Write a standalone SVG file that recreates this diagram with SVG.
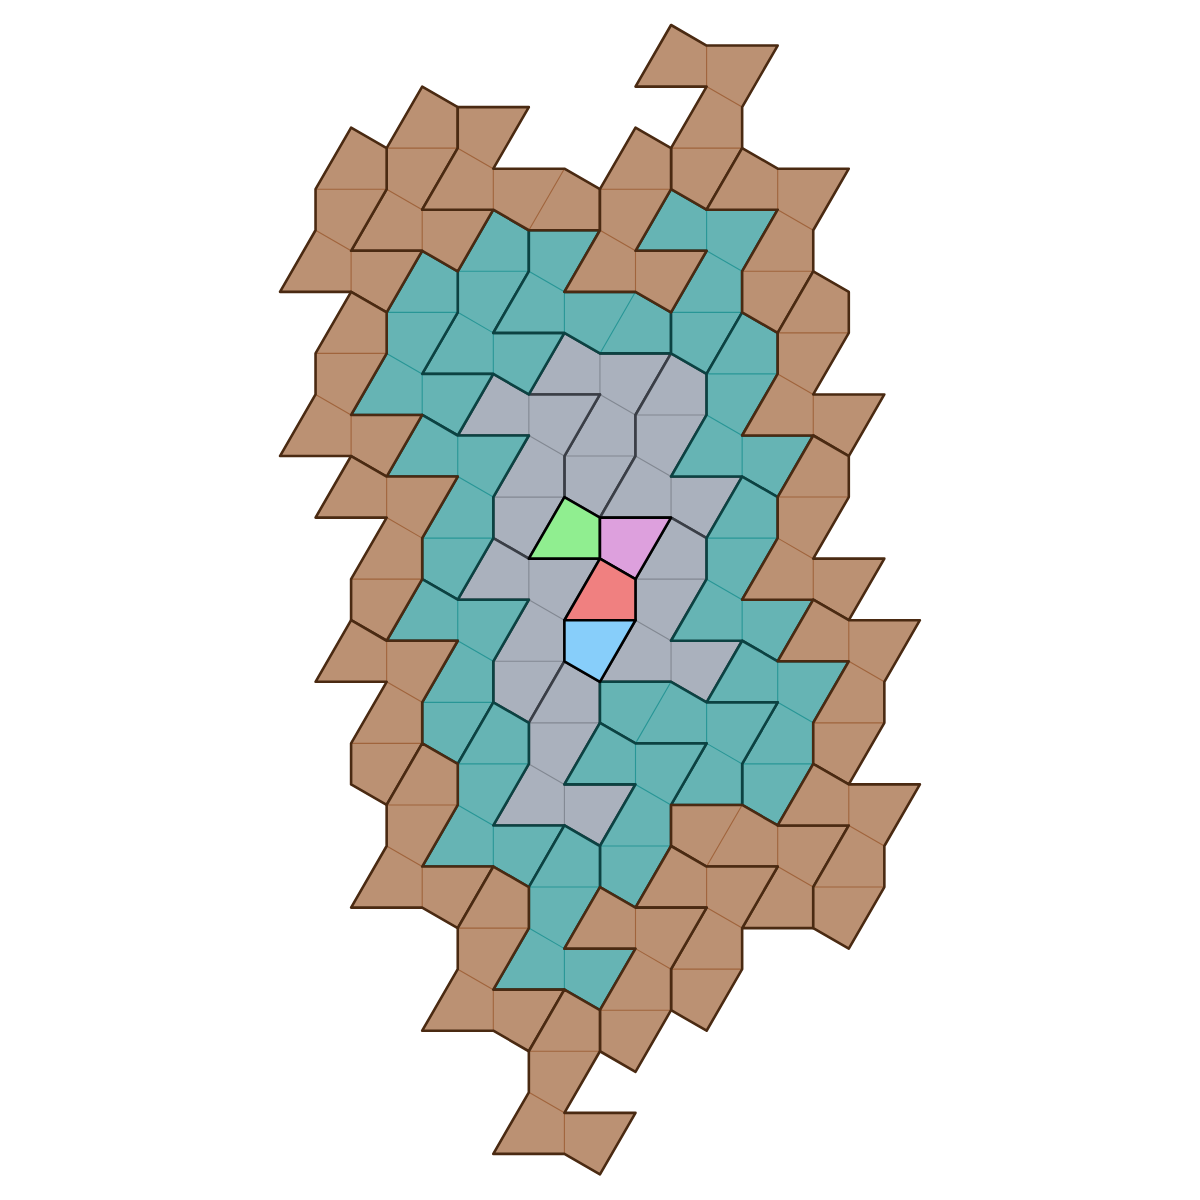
<svg xmlns="http://www.w3.org/2000/svg" width="1200" height="1200" viewBox="0 0 1200 1200">
<style>
.k{stroke-width:1.1;stroke-linejoin:round}
.o{fill:none;stroke-width:2.6;stroke-linejoin:round}
.gray .k{fill:#aab1bd;stroke:#828892}
.gray .o{stroke:#3a3e46}
.teal .k{fill:#66b4b4;stroke:#289696}
.teal .o{stroke:#0c4242}
.brown .k{fill:#bb9173;stroke:#a0643c}
.brown .o{stroke:#4a2a12}
.c{stroke:#000;stroke-width:2.6;stroke-linejoin:round;vector-effect:non-scaling-stroke}
</style>
<defs>
<path id="kA" vector-effect="non-scaling-stroke" d="M0,0 1,-3 2,-2 2,0Z M2,0 0,0 0,2 1,3Z M-1,5 0,2 1,3 1,5Z M3,3 1,3 1,5 2,6Z"/>
<path id="oA" vector-effect="non-scaling-stroke" d="M1,-3 2,-2 2,0 1,3 3,3 2,6 1,5 -1,5 0,2 0,0Z"/>
<path id="kB" vector-effect="non-scaling-stroke" d="M0,0 1,-3 2,-2 2,0Z M4,-2 2,-2 2,0 3,1Z M1,3 2,0 3,1 3,3Z M3,3 1,3 1,5 2,6Z"/>
<path id="oB" vector-effect="non-scaling-stroke" d="M0,0 1,-3 2,-2 4,-2 3,1 3,3 2,6 1,5 1,3 2,0Z"/>
<path id="kC" vector-effect="non-scaling-stroke" d="M0,0 1,-3 2,-2 2,0Z M3,-5 1,-5 1,-3 2,-2Z M4,-2 2,-2 2,0 3,1Z M3,1 4,-2 5,-1 5,1Z"/>
<path id="oC" vector-effect="non-scaling-stroke" d="M0,0 1,-3 1,-5 3,-5 2,-2 4,-2 5,-1 5,1 3,1 2,0Z"/>
<path id="kD" vector-effect="non-scaling-stroke" d="M0,0 1,-3 2,-2 2,0Z M1,-3 -1,-3 -1,-1 0,0Z M4,-2 2,-2 2,0 3,1Z M1,3 2,0 3,1 3,3Z"/>
<path id="oD" vector-effect="non-scaling-stroke" d="M1,-3 2,-2 4,-2 3,1 3,3 1,3 2,0 0,0 -1,-1 -1,-3Z"/>
</defs>
<rect width="1200" height="1200" fill="#fff"/>
<g transform="matrix(35.55 0 0 20.525 280 25)">
<g id="gray-layer">
<g id="g1" class="gray" transform="translate(7 18)"><use class="k" href="#kB"/><use class="o" href="#oB"/></g>
<g id="g2" class="gray" transform="translate(10 19)"><use class="k" href="#kA"/><use class="o" href="#oA"/></g>
<g id="g3" class="gray" transform="translate(5 20)"><use class="k" href="#kB"/><use class="o" href="#oB"/></g>
<g id="g4" class="gray" transform="translate(5 28)"><use class="k" href="#kB"/><use class="o" href="#oB"/></g>
<g id="g5" class="gray" transform="translate(10 27)"><use class="k" href="#kA"/><use class="o" href="#oA"/></g>
<g id="g6" class="gray" transform="translate(7 34)"><use class="k" href="#kA"/><use class="o" href="#oA"/></g>
</g>
<g id="teal-layer">
<g id="t1" class="teal" transform="translate(5 12)"><use class="k" href="#kA"/><use class="o" href="#oA"/></g>
<g id="t2" class="teal" transform="translate(6 15)"><use class="k" href="#kC"/><use class="o" href="#oC"/></g>
<g id="t3" class="teal" transform="translate(3 14)"><use class="k" href="#kA"/><use class="o" href="#oA"/></g>
<g id="t4" class="teal" transform="translate(10 11)"><use class="k" href="#kB"/><use class="o" href="#oB"/></g>
<g id="t5" class="teal" transform="translate(12 17)"><use class="k" href="#kA"/><use class="o" href="#oA"/></g>
<g id="t6" class="teal" transform="translate(3 22)"><use class="k" href="#kB"/><use class="o" href="#oB"/></g>
<g id="t7" class="teal" transform="translate(12 25)"><use class="k" href="#kA"/><use class="o" href="#oA"/></g>
<g id="t8" class="teal" transform="translate(3 30)"><use class="k" href="#kB"/><use class="o" href="#oB"/></g>
<g id="t9" class="teal" transform="translate(12 33)"><use class="k" href="#kB"/><use class="o" href="#oB"/></g>
<g id="t10" class="teal" transform="translate(10 35)"><use class="k" href="#kD"/><use class="o" href="#oD"/></g>
<g id="t11" class="teal" transform="translate(5 36)"><use class="k" href="#kA"/><use class="o" href="#oA"/></g>
<g id="t12" class="teal" transform="translate(8 37)"><use class="k" href="#kB"/><use class="o" href="#oB"/></g>
<g id="t13" class="teal" transform="translate(7 42)"><use class="k" href="#kA"/><use class="o" href="#oA"/></g>
</g>
<g id="brown-layer">
<g id="b1" class="brown" transform="translate(10 3)"><use class="k" href="#kB"/><use class="o" href="#oB"/></g>
<g id="b2" class="brown" transform="translate(3 6)"><use class="k" href="#kA"/><use class="o" href="#oA"/></g>
<g id="b3" class="brown" transform="translate(4 9)"><use class="k" href="#kC"/><use class="o" href="#oC"/></g>
<g id="b4" class="brown" transform="translate(1 8)"><use class="k" href="#kA"/><use class="o" href="#oA"/></g>
<g id="b5" class="brown" transform="translate(9 8)"><use class="k" href="#kA"/><use class="o" href="#oA"/></g>
<g id="b6" class="brown" transform="translate(12 9)"><use class="k" href="#kB"/><use class="o" href="#oB"/></g>
<g id="b7" class="brown" transform="translate(14 15)"><use class="k" href="#kA"/><use class="o" href="#oA"/></g>
<g id="b8" class="brown" transform="translate(1 16)"><use class="k" href="#kA"/><use class="o" href="#oA"/></g>
<g id="b9" class="brown" transform="translate(1 24)"><use class="k" href="#kB"/><use class="o" href="#oB"/></g>
<g id="b10" class="brown" transform="translate(14 23)"><use class="k" href="#kA"/><use class="o" href="#oA"/></g>
<g id="b11" class="brown" transform="translate(1 32)"><use class="k" href="#kB"/><use class="o" href="#oB"/></g>
<g id="b12" class="brown" transform="translate(14 31)"><use class="k" href="#kB"/><use class="o" href="#oB"/></g>
<g id="b13" class="brown" transform="translate(3 38)"><use class="k" href="#kA"/><use class="o" href="#oA"/></g>
<g id="b14" class="brown" transform="translate(12 41)"><use class="k" href="#kD"/><use class="o" href="#oD"/></g>
<g id="b15" class="brown" transform="translate(14 39)"><use class="k" href="#kB"/><use class="o" href="#oB"/></g>
<g id="b16" class="brown" transform="translate(10 43)"><use class="k" href="#kB"/><use class="o" href="#oB"/></g>
<g id="b17" class="brown" transform="translate(8 45)"><use class="k" href="#kB"/><use class="o" href="#oB"/></g>
<g id="b18" class="brown" transform="translate(5 44)"><use class="k" href="#kA"/><use class="o" href="#oA"/></g>
<g id="b19" class="brown" transform="translate(7 50)"><use class="k" href="#kA"/><use class="o" href="#oA"/></g>
</g>
<g id="center">
<path id="green" class="c" vector-effect="non-scaling-stroke" fill="#90ee90" d="M7,26 8,23 9,24 9,26Z"/>
<path id="pink" class="c" vector-effect="non-scaling-stroke" fill="#dda0dd" d="M11,24 9,24 9,26 10,27Z"/>
<path id="red" class="c" vector-effect="non-scaling-stroke" fill="#f08080" d="M8,29 9,26 10,27 10,29Z"/>
<path id="blue" class="c" vector-effect="non-scaling-stroke" fill="#87cefa" d="M10,29 8,29 8,31 9,32Z"/>
</g>
</g>
</svg>
